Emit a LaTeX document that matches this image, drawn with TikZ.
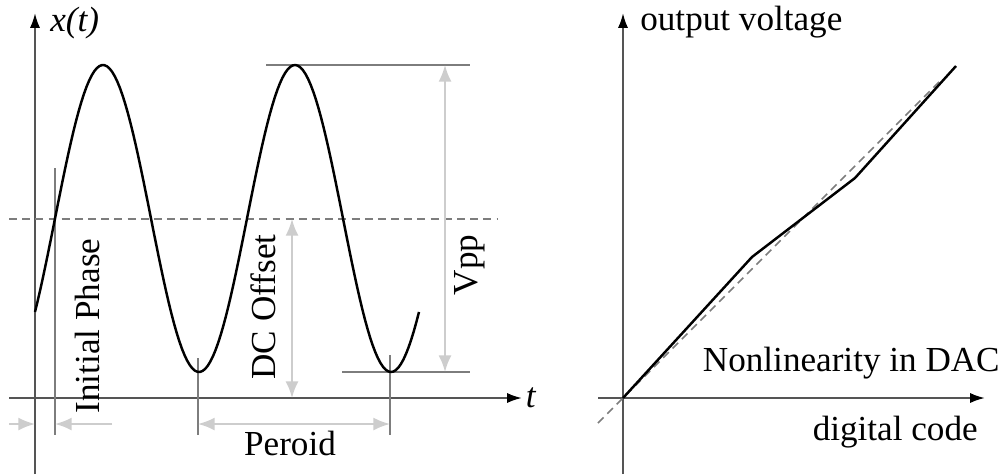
\documentclass[tikz,border=0pt]{standalone}
\usepackage{fontspec}
\setmainfont{Liberation Serif}
\usetikzlibrary{arrows.meta,positioning,calc}
\definecolor{axgray}{RGB}{85,85,85}
\definecolor{guidegray}{RGB}{125,125,125}
\definecolor{dimgray}{RGB}{205,205,205}

\begin{document}
\begin{tikzpicture}[x=0.02cm,y=-0.02cm,>=Latex,font=\fontsize{20}{24}\selectfont,
  ax/.style={draw=axgray,line width=1.2pt,-{Latex[black,length=8.5pt,width=5.8pt]}},
  guide/.style={draw=guidegray,line width=1.1pt},
  dimline/.style={draw=dimgray,line width=1.1pt,{Latex[length=9.5pt,width=7.4pt]}-{Latex[length=9.5pt,width=7.4pt]}},
  dimto/.style={draw=dimgray,line width=1.1pt,-{Latex[length=9.5pt,width=7.4pt]}},
  ref/.style={draw=guidegray,line width=0.9pt,dash pattern=on 4.5pt off 3pt},
  wave/.style={draw=black,line width=1.4pt,line join=round},
  lbl/.style={inner sep=0pt}]
\useasboundingbox (0,0) rectangle (1004,474);
% left: signal
\coordinate (o1) at (35,398);
\coordinate (xend) at (522,398);
\coordinate (yend) at (35,13);
\draw[ax] (9,398) -- (xend);
\draw[ax] (35,474) -- (yend);
\node[lbl,anchor=west] (xt) at (50,23) {\textit{x(t)}};
\node[lbl,right=2pt of xend] (t) {\textit{t}};
\draw[ref] (9,219) -- (497,219);
\draw[guide] (55,168) -- (55,435);
\draw[guide] (198,358) -- (198,435);
\draw[guide] (390,355) -- (390,435);
\draw[guide] (266,65) -- (470,65);
\draw[guide] (342,372) -- (470,372);
\draw[wave] plot[domain=35:419,samples=150] (\x,{218.5-153.5*sin(1.875*(\x-55))});
\draw[dimto] (9,424) -- (35,424);
\draw[dimto] (112,424) -- (55,424);
\draw[dimline] (198,424) -- (390,424);
\draw[dimline] (292,219) -- (292,398);
\draw[dimline] (445,65) -- (445,372);
\node[lbl,rotate=90] (phase) at (87,326) {Initial Phase};
\node[lbl,rotate=90] (dc) at (263,307) {DC Offset};
\node[lbl,rotate=90] (vpp) at (470,265) {Vpp};
\node[lbl] (period) at (290,443) {Peroid};
% right: DAC transfer
\coordinate (o2) at (623,398);
\coordinate (cend) at (985,398);
\coordinate (vend) at (623,13);
\draw[ax] (598,398) -- (cend);
\draw[ax] (623,474) -- (vend);
\draw[ref] (598,423) -- (940,81);
\draw[wave] (o2) -- (752,257) -- (855,178) -- (956,66);
\node[lbl,anchor=west] (vout) at (640,22) {output voltage};
\node[lbl,anchor=east] (nl) at (1000,363) {Nonlinearity in DAC};
\node[lbl,anchor=east] (code) at (978,432) {digital code};
\end{tikzpicture}
\end{document}
